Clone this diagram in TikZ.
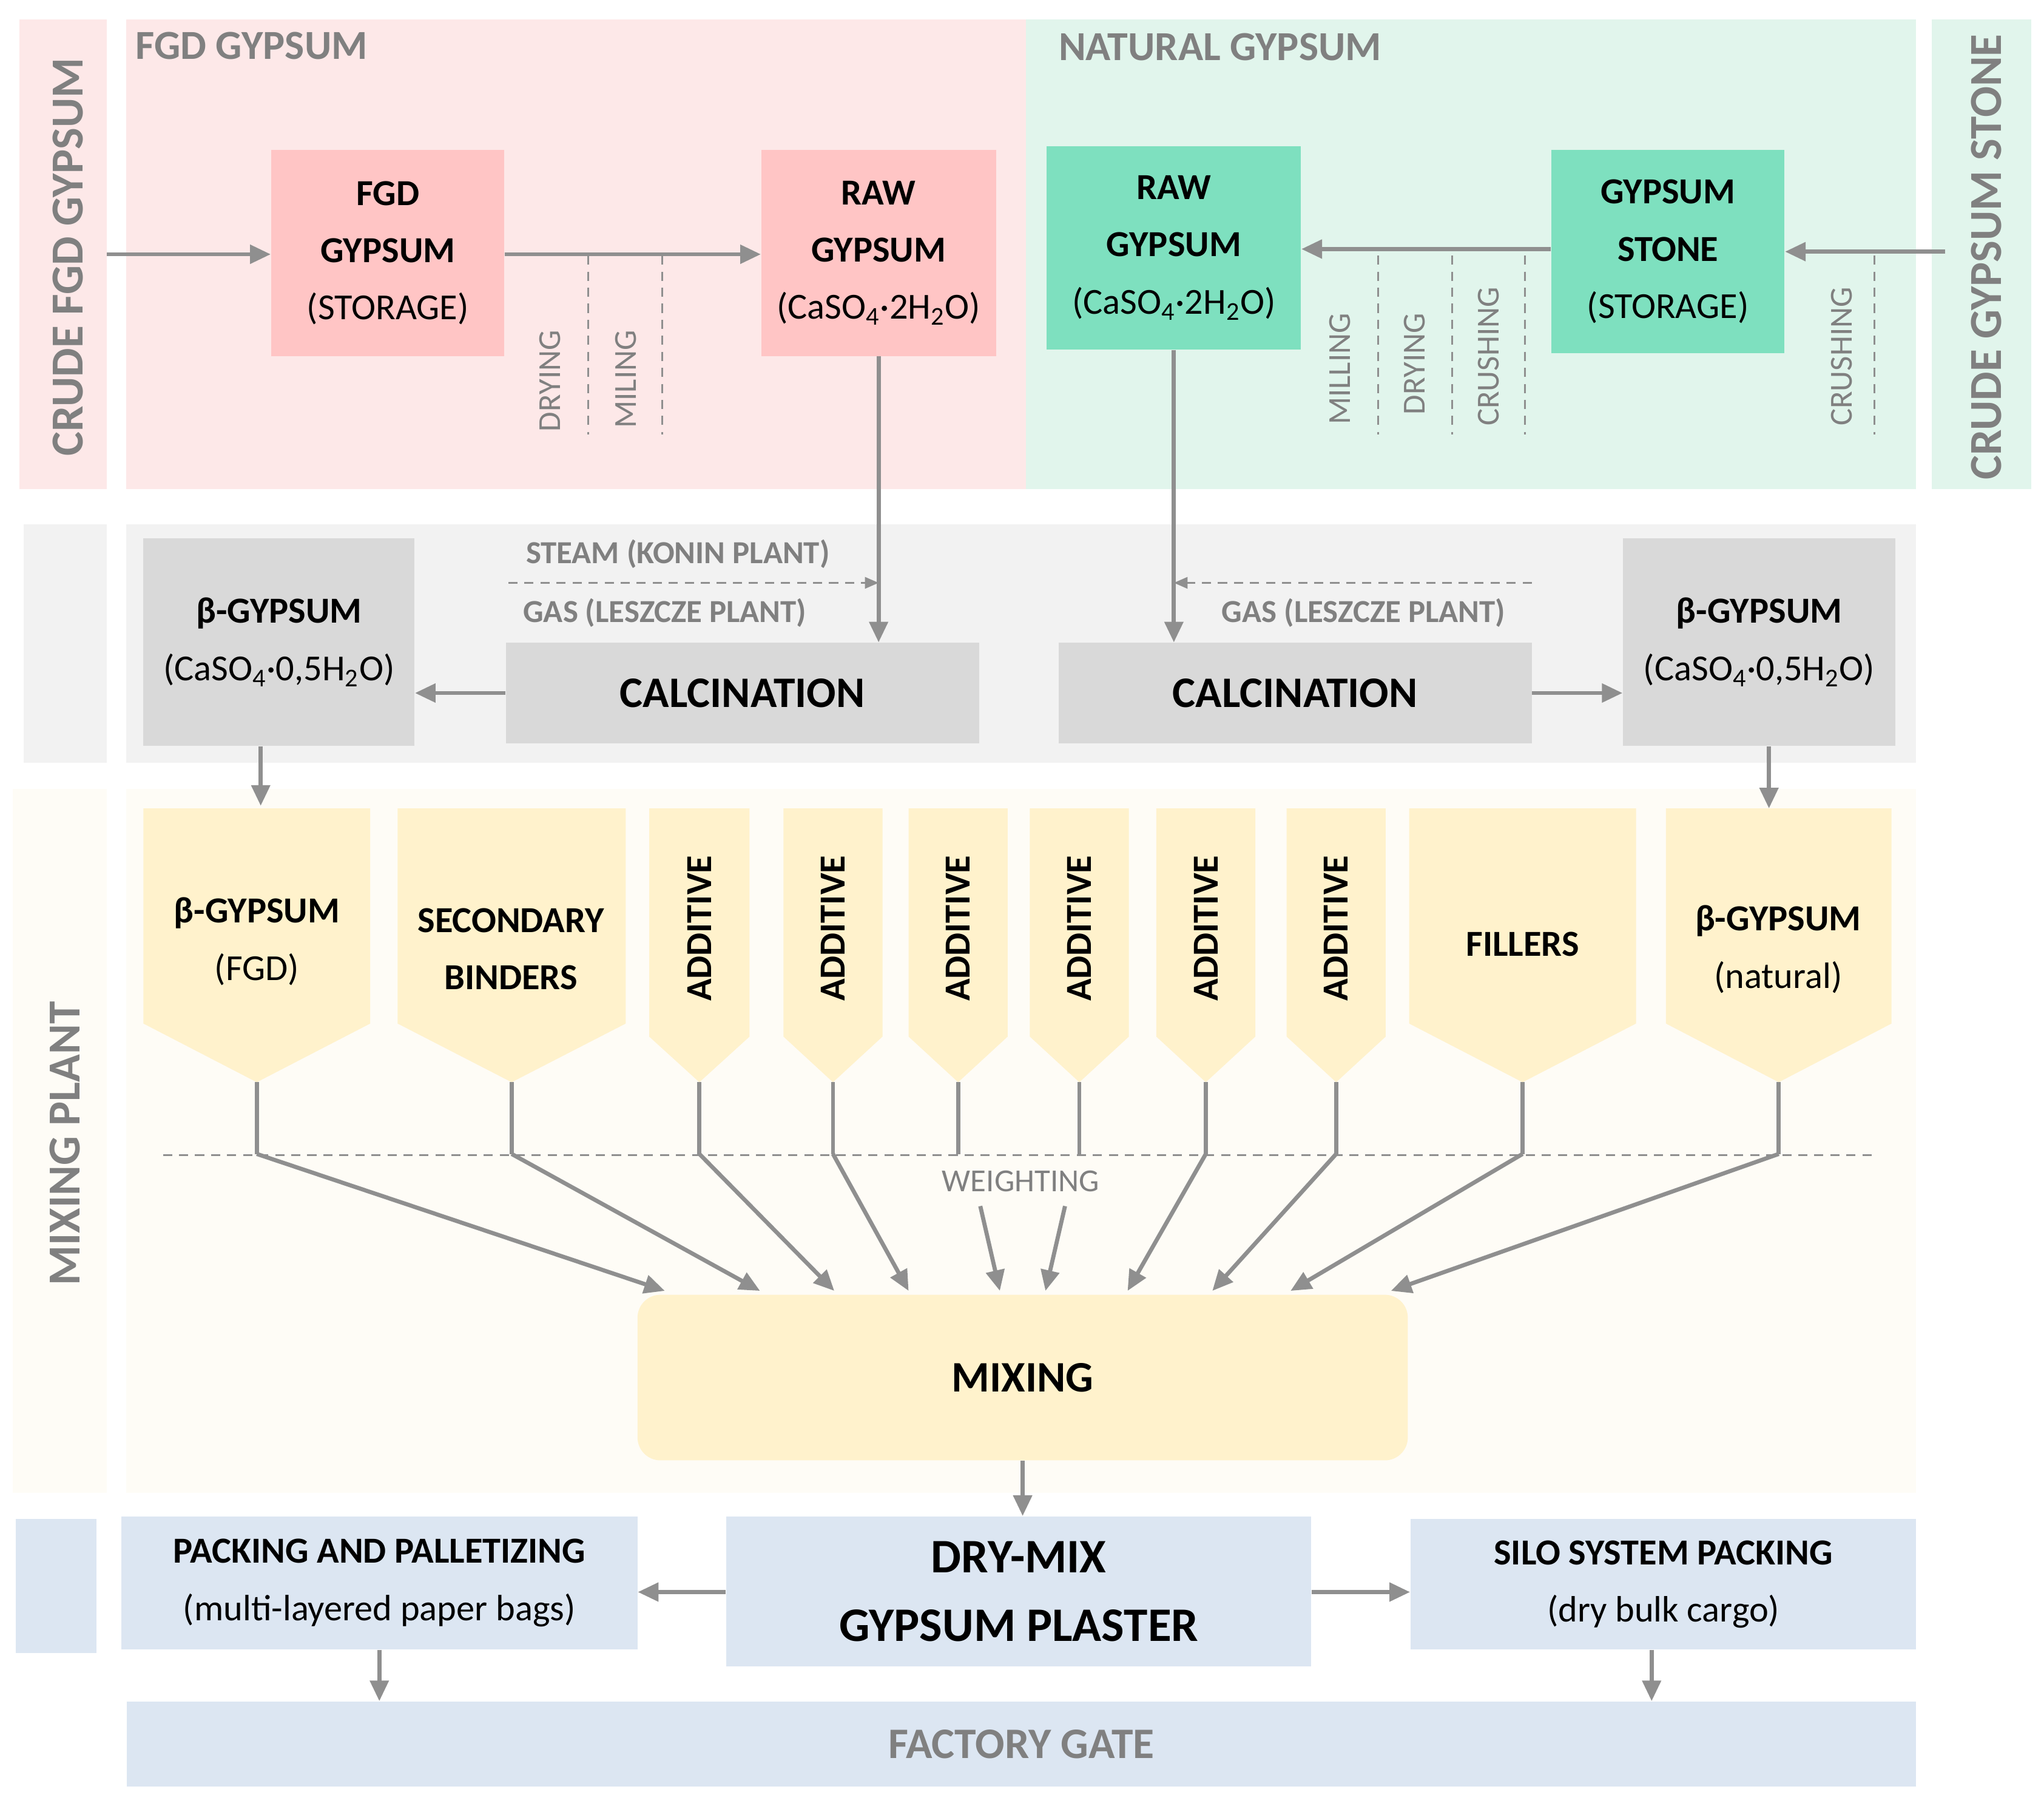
\documentclass[tikz,border=0pt]{standalone}
\usepackage{fontspec}
\setmainfont{Carlito}
\usetikzlibrary{arrows.meta}
\definecolor{fgdbg}{HTML}{FDE8E8}
\definecolor{natbg}{HTML}{E1F5EC}
\definecolor{fgdbox}{HTML}{FFC5C5}
\definecolor{natbox}{HTML}{7EE0BF}
\definecolor{calbg}{HTML}{F2F2F2}
\definecolor{calbox}{HTML}{D9D9D9}
\definecolor{mixbg}{HTML}{FEFCF6}
\definecolor{silo}{HTML}{FFF2CC}
\definecolor{packbg}{HTML}{DCE6F2}
\definecolor{arr}{HTML}{8F8F8F}
\definecolor{lbl}{HTML}{808080}
\tikzset{
  procbox/.style={rectangle, inner sep=2pt, align=center, font=\fontsize{16}{25}\selectfont},
  flow/.style={draw=arr, line width=1.8pt, -{Triangle[length=9pt,width=8pt]}},
  plainline/.style={draw=arr, line width=1.8pt},
  dashline/.style={draw=arr, line width=0.8pt, dash pattern=on 4pt off 3pt},
  sidelabel/.style={text=lbl, font=\bfseries\fontsize{20}{22}\selectfont, rotate=90},
  steplabel/.style={text=lbl, font=\fontsize{14}{16}\selectfont, rotate=90, anchor=east},
  notelabel/.style={text=lbl, font=\bfseries\fontsize{14}{16}\selectfont},
}
\begin{document}
\begin{tikzpicture}[x=0.02cm, y=-0.02cm]
\useasboundingbox (0,0) rectangle (1568,1387);

% bands
\fill[fgdbg] (15,15) rectangle (82,375);
\fill[fgdbg] (97,15) rectangle (787,375);
\fill[natbg] (787,15) rectangle (1470,375);
\fill[natbg] (1482,15) rectangle (1558,375);
\fill[calbg] (18,402) rectangle (82,585);
\fill[calbg] (97,402) rectangle (1470,585);
\fill[mixbg] (10,605) rectangle (82,1145);
\fill[mixbg] (97,605) rectangle (1470,1145);
\fill[packbg] (12,1165) rectangle (74,1268);

\node[sidelabel] (crudefgd) at (52,197) {CRUDE FGD GYPSUM};
\node[sidelabel] (crudestone) at (1524,197) {CRUDE GYPSUM STONE};
\node[sidelabel] (mixplant) at (50,877) {MIXING PLANT};
\node[text=lbl, font=\bfseries\fontsize{18}{20}\selectfont, anchor=west] (fgdtitle) at (98,35) {FGD GYPSUM};
\node[text=lbl, font=\bfseries\fontsize{18}{20}\selectfont, anchor=west] (nattitle) at (806,36) {NATURAL GYPSUM};

% gypsum sources
\node[procbox, fill=fgdbox, minimum width=3.58cm, minimum height=3.16cm] (fgdstore) at (297.5,194) {\textbf{FGD}\\\textbf{GYPSUM}\\(STORAGE)};
\node[procbox, fill=fgdbox, minimum width=3.6cm, minimum height=3.16cm] (rawfgd) at (674,194) {\textbf{RAW}\\\textbf{GYPSUM}\\(CaSO\textsubscript{4}·2H\textsubscript{2}O)};
\node[procbox, fill=natbox, minimum width=3.9cm, minimum height=3.12cm] (rawnat) at (900.5,190) {\textbf{RAW}\\\textbf{GYPSUM}\\(CaSO\textsubscript{4}·2H\textsubscript{2}O)};
\node[procbox, fill=natbox, minimum width=3.58cm, minimum height=3.12cm] (stone) at (1279.5,193) {\textbf{GYPSUM}\\\textbf{STONE}\\(STORAGE)};

\coordinate (fgdin) at (82,195);
\coordinate (stonein) at (1492,193);
\draw[flow] (fgdin) -- (fgdstore.west |- fgdin);
\draw[flow] (fgdstore.east |- fgdin) -- (rawfgd.west |- fgdin);
\draw[flow] (stonein) -- (stone.east |- stonein);
\draw[flow] (stone.west |- 0,191) -- (rawnat.east |- 0,191);
\foreach \x in {451,508,1057,1114,1170,1438} \draw[dashline] (\x,196) -- (\x,333);
\node[steplabel] (dry1) at (422,247) {DRYING};
\node[steplabel] (mil1) at (480,247) {MILING};
\node[steplabel] (mil2) at (1028,234) {MILLING};
\node[steplabel] (dry2) at (1085,234) {DRYING};
\node[steplabel] (cru2) at (1142,214) {CRUSHING};
\node[steplabel] (cru3) at (1413,214) {CRUSHING};

% calcination
\node[procbox, fill=calbox, minimum width=7.26cm, minimum height=1.54cm, font=\bfseries\fontsize{19}{22}\selectfont] (calc1) at (569.5,531.5) {CALCINATION};
\node[procbox, fill=calbox, minimum width=7.26cm, minimum height=1.54cm, font=\bfseries\fontsize{19}{22}\selectfont] (calc2) at (993.5,531.5) {CALCINATION};
\node[procbox, fill=calbox, minimum width=4.16cm, minimum height=3.18cm] (betafgd) at (214,492.5) {\textbf{β-GYPSUM}\\(CaSO\textsubscript{4}·0,5H\textsubscript{2}O)};
\node[procbox, fill=calbox, minimum width=4.18cm, minimum height=3.18cm] (betanat) at (1349.5,492.5) {\textbf{β-GYPSUM}\\(CaSO\textsubscript{4}·0,5H\textsubscript{2}O)};

\draw[flow] (rawfgd) -- (calc1.north -| rawfgd);
\draw[flow] (rawnat.south) -- (calc2.north -| rawnat.south);
\draw[flow] (calc1.west) -- (betafgd.east |- calc1.west);
\draw[flow] (calc2.east) -- (betanat.west |- calc2.east);
\coordinate (steamin) at (390,447);
\coordinate (gasin) at (1175,447);
\draw[dashline, -{Triangle[length=6pt,width=5pt]}] (steamin) -- (rawfgd |- steamin);
\draw[dashline, -{Triangle[length=6pt,width=5pt]}] (gasin) -- (rawnat.south |- gasin);
\node[notelabel] (steam) at (520,425) {STEAM (KONIN PLANT)};
\node[notelabel] (gas1) at (510,470) {GAS (LESZCZE PLANT)};
\node[notelabel] (gas2) at (1046,470) {GAS (LESZCZE PLANT)};

% silos
\foreach \a/\b/\n in {110/284/s1,305/480/s2,1081/1255/s9,1278/1451/s10}{
  \fill[silo] (\a,620) -- (\b,620) -- (\b,785) -- ({(\a+\b)/2},830) -- (\a,785) -- cycle;
  \coordinate (\n) at ({(\a+\b)/2},830);
}
\foreach \a/\b/\n in {498/575/s3,601/677/s4,697/773/s5,790/866/s6,887/963/s7,987/1063/s8}{
  \fill[silo] (\a,620) -- (\b,620) -- (\b,795) -- ({(\a+\b)/2},830) -- (\a,795) -- cycle;
  \node[rotate=90, font=\bfseries\fontsize{16}{18}\selectfont] at ({(\a+\b)/2},712) {ADDITIVE};
  \coordinate (\n) at ({(\a+\b)/2},830);
}
\node[procbox] (t1) at (197,722) {\textbf{β-GYPSUM}\\(FGD)};
\node[procbox] (t2) at (392,728) {\textbf{SECONDARY}\\\textbf{BINDERS}};
\node[procbox] (t9) at (1168,724) {\textbf{FILLERS}};
\node[procbox] (t10) at (1364,728) {\textbf{β-GYPSUM}\\(natural)};
\draw[flow] (betafgd.south -| 200,0) -- (200,618);
\draw[flow] (betanat.south -| 1357,0) -- (1357,620);

% weighting
\draw[dashline] (125,886) -- (1440,886);
\node[text=lbl, font=\fontsize{14}{16}\selectfont] (weight) at (783,906) {WEIGHTING};

\node[procbox, fill=silo, rounded corners=10pt, minimum width=11.82cm, minimum height=2.54cm, font=\bfseries\fontsize{19}{22}\selectfont] (mixing) at (784.5,1056.5) {MIXING};

\foreach \n/\e in {s1/510,s2/583,s3/640,s4/697,s7/865,s8/930,s9/990,s10/1067}{
  \draw[plainline] (\n) -- (\n |- 0,885) coordinate (\n b);
  \draw[flow] (\n b) -- (\e,990);
}
\draw[plainline] (s5) -- (s5 |- 0,885);
\draw[plainline] (s6) -- (s6 |- 0,885);
\draw[flow] (752,925) -- (767,990);
\draw[flow] (817,925) -- (802,990);

% packing
\node[procbox, fill=packbg, minimum width=8.98cm, minimum height=2.3cm, font=\bfseries\fontsize{21}{30}\selectfont] (drymix) at (781.5,1220.5) {DRY-MIX\\GYPSUM PLASTER};
\node[procbox, fill=packbg, minimum width=7.92cm, minimum height=2.04cm] (packing) at (291,1214) {\textbf{PACKING AND PALLETIZING}\\(multi-layered paper bags)};
\node[procbox, fill=packbg, minimum width=7.76cm, minimum height=2.0cm] (silopack) at (1276,1215) {\textbf{SILO SYSTEM PACKING}\\(dry bulk cargo)};
\node[procbox, fill=packbg, minimum width=27.46cm, minimum height=1.3cm, text=lbl, font=\bfseries\fontsize{19}{22}\selectfont] (gate) at (783.5,1337.5) {FACTORY GATE};

\draw[flow] (mixing.south) -- (mixing.south |- drymix.north);
\draw[flow] (drymix.west |- 0,1221) -- (packing.east |- 0,1221);
\draw[flow] (drymix.east |- 0,1221) -- (silopack.west |- 0,1221);
\draw[flow] (packing.south) -- (gate.north -| packing.south);
\draw[flow] (silopack.south -| 1267,0) -- (gate.north -| 1267,0);
\end{tikzpicture}
\end{document}
